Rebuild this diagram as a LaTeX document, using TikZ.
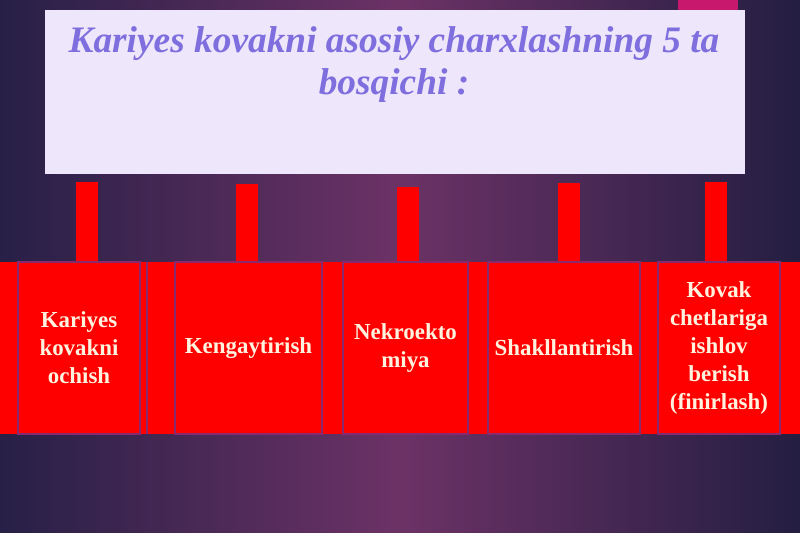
\documentclass[tikz,border=0pt]{standalone}
\usepackage{fontspec}
\setmainfont{Liberation Serif}
\usetikzlibrary{positioning}
\definecolor{bgleft}{HTML}{272046}
\definecolor{bgmid}{HTML}{6C3266}
\definecolor{bgright}{HTML}{241E42}
\definecolor{boxfill}{HTML}{EEE6FA}
\definecolor{titlecol}{HTML}{7E6EDE}
\definecolor{stagered}{HTML}{FF0000}
\definecolor{stageline}{HTML}{8A2A6E}
\definecolor{stagetext}{HTML}{FFF2DE}
\definecolor{tabpink}{HTML}{C8186E}

\begin{document}
\begin{tikzpicture}[x=1bp, y=-1bp,
  heading/.style={text=titlecol, align=center, inner sep=0pt, font=\bfseries\itshape\fontsize{37.5}{43}\selectfont},
  stage/.style={draw=stageline, line width=1.5bp, fill=stagered, minimum height=172bp, inner sep=0pt, text=stagetext, align=center, font=\bfseries\fontsize{23}{28}\selectfont},
  bar/.style={draw=stagered, line width=22bp}]
  \shade[left color=bgleft, right color=bgright, middle color=bgmid] (0,0) rectangle (800,533);
  \useasboundingbox (0,0) rectangle (800,533);
  \fill[tabpink] (678,0) rectangle (738,10);
  % title box
  \node[fill=boxfill, minimum width=700bp, minimum height=164bp, inner sep=0pt, anchor=north west] (title) at (45,10) {};
  \node[heading, anchor=base] (head) at (394,95) {Kariyes kovakni asosiy charxlashning 5 ta\\bosqichi :};
  % red band with the stages
  \node[fill=stagered, minimum width=800bp, minimum height=172bp, inner sep=0pt, anchor=north west] (band) at (0,262) {};
  \foreach \i/\x/\y in {1/87/182, 2/247/184, 3/408/187, 4/569/183, 5/716/182}
    \coordinate (b\i) at (\x,\y);
  \foreach \i in {1,...,5}
    \draw[bar] (b\i) -- (b\i |- band.north);
  \foreach \i/\x/\w/\t in {1/79/122/{Kariyes\\kovakni\\ochish}, 2/248.5/147/{Kengaytirish}, 3/405.5/125/{Nekroekto\\miya}, 4/564/152/{Shakllantirish}, 5/719/122/{Kovak\\chetlariga\\ishlov\\berish\\(finirlash)}}
    \node[stage, minimum width=\w bp] (c\i) at (\x,348) {\t};
  \draw[stageline, line width=1.5bp] (18,262) -- (18,434) (147,262) -- (147,434);
\end{tikzpicture}
\end{document}
